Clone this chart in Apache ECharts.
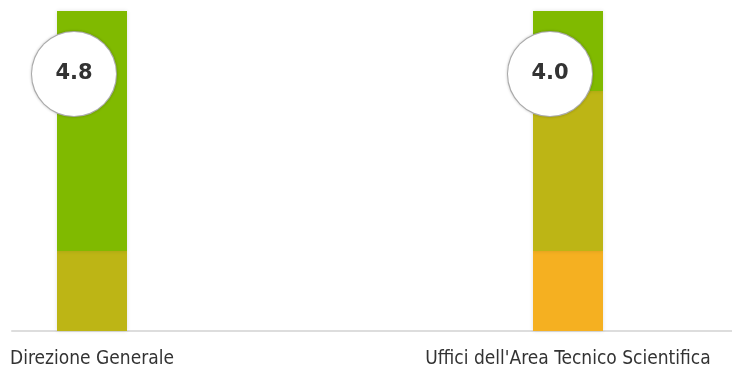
<!DOCTYPE html>
<html>
<head>
<meta charset="utf-8">
<script src="https://cdn.jsdelivr.net/npm/echarts@6/dist/echarts.min.js"></script>
<style>
html,body{margin:0;padding:0;background:#fff;}
#chart{width:732px;height:376px;}
</style>
</head>
<body>
<div id="chart"></div>
<script>
// Data
var categories = ["Direzione Generale", "Uffici dell'Area Tecnico Scientifica"];
var score3 = [0, 1];   // orange
var score4 = [1, 2];   // olive
var score5 = [3, 1];   // green
var averages = ["4.8", "4.0"];

var chart = echarts.init(document.getElementById('chart'), null, {renderer: 'canvas'});
var FONT_LABEL = '"DejaVu Sans Condensed", "DejaVu Sans", sans-serif';
var barShadow = {shadowBlur: 4, shadowColor: 'rgba(0,0,0,0.12)'};

function barSeries(name, data, color, withLabel) {
  var s = {
    name: name,
    type: 'bar',
    stack: 'total',
    xAxisIndex: 0,
    yAxisIndex: 0,
    barWidth: 70,
    clip: false,
    data: data,
    itemStyle: Object.assign({color: color}, barShadow),
    emphasis: {disabled: true}
  };
  if (withLabel) {
    s.label = {
      show: true,
      position: 'insideTop',
      distance: 21,
      offset: [-18, 42],
      formatter: function (p) { return averages[p.dataIndex]; },
      width: 84,
      height: 84,
      lineHeight: 84,
      padding: 0,
      align: 'center',
      verticalAlign: 'middle',
      backgroundColor: '#ffffff',
      borderColor: '#b5b5b5',
      borderWidth: 1,
      borderRadius: 42,
      shadowBlur: 3,
      shadowColor: 'rgba(0,0,0,0.18)',
      fontFamily: '"DejaVu Sans", sans-serif',
      fontWeight: 'bold',
      fontSize: 21,
      color: '#333333'
    };
  }
  return s;
}

var option = {
  animation: false,
  backgroundColor: '#ffffff',
  grid: [
    {left: 92, right: 164, top: 11, bottom: 45},
    {left: 12, right: 0, top: 11, bottom: 45}
  ],
  xAxis: [
    {
      type: 'category',
      gridIndex: 0,
      data: categories,
      boundaryGap: false,
      axisLine: {show: false},
      axisTick: {show: false},
      splitLine: {show: false},
      axisLabel: {
        margin: 19,
        fontFamily: FONT_LABEL,
        fontSize: 19,
        color: '#333333',
        interval: 0
      }
    },
    {
      type: 'value',
      gridIndex: 1,
      min: 0,
      max: 1,
      axisLine: {show: true, lineStyle: {color: '#dddddd', width: 2}},
      axisTick: {show: false},
      axisLabel: {show: false},
      splitLine: {show: false}
    }
  ],
  yAxis: [
    {type: 'value', gridIndex: 0, min: 0, max: 4, show: false},
    {type: 'value', gridIndex: 1, min: 0, max: 1, show: false}
  ],
  series: [
    barSeries('3', score3, '#f5b021', false),
    barSeries('4', score4, '#bdb515', false),
    barSeries('5', score5, '#80ba00', true)
  ]
};
chart.setOption(option);
</script>
</body>
</html>
